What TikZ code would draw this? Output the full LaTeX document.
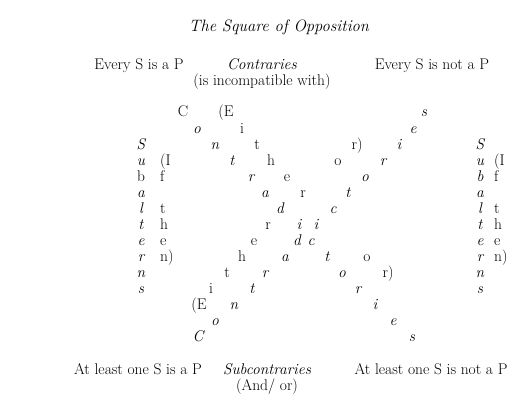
\documentclass[tikz,border=0pt]{standalone}
\usetikzlibrary{positioning}

\begin{document}
\begin{tikzpicture}[x=1pt, y=-1pt, node distance=3pt,
  every node/.style={font=\fontsize{15.5}{18}\selectfont, inner sep=0pt, anchor=base},
  rel/.style={font=\fontsize{15.5}{18}\selectfont\itshape},
  ltr/.style={font=\fontsize{15.5}{18}\selectfont\itshape},
  ifthen/.style={anchor=base west}]
\useasboundingbox (0,0) rectangle (520,403);
\node[font=\fontsize{16.5}{19}\selectfont\itshape] (title) at (279,32) {The Square of Opposition};
% top corners
\node (every) at (139,70) {Every S is a P};
\node[rel] (contr) at (262,70) {Contraries};
\node (everynot) at (432,70) {Every S is not a P};
\node[below=3pt of contr] (incomp) {(is incompatible with)};
% bottom corners
\node (least) at (138,375) {At least one S is a P};
\node[rel] (subc) at (267,375) {Subcontraries};
\node (leastnot) at (431,375) {At least one S is not a P};
\node[below=3pt of subc] (andor) {(And/ or)};
% contradictories, top left to bottom right
\node (cdown-0) at (183,117) {C};
\foreach \ch/\x [count=\j] in {o/197,n/215,t/232,r/251,a/265,d/280,i/299,c/311,t/327,o/342,r/358,i/375,e/393,s/412}
  \node[ltr] (cdown-\j) at (\x,{117+16.07*\j}) {\ch};
% contradictories, bottom left to top right
\node[ltr] (cup-0) at (198,342) {C};
\foreach \ch/\x [count=\j] in {o/215,n/234,t/252,r/265,a/285,d/297,i/316,c/333,t/348,o/365,r/383,i/399,e/413,s/424}
  \node[ltr] (cup-\j) at (\x,{117+16.07*(14-\j)}) {\ch};
% either ... or
\foreach \j/\ch/\x in {0/{(E}/226,1/i/242,2/t/257,3/h/271,4/e/287,5/r/303,9/o/367,10/{r)}/388}
  \node (edown-\j) at (\x,{117+16.07*\j}) {\ch};
\foreach \j/\ch/\x in {0/{(E}/199,1/i/211,2/t/227,3/h/242,4/e/254,5/r/268,9/o/338,10/{r)}/357}
  \node (eup-\j) at (\x,{117+16.07*(12-\j)}) {\ch};
% subalterns
\foreach \ch [count=\k from 2] in {S,u,{\upshape b},a,l,t,e,r,n,s}
  \node[ltr] (subl-\k) at (141,{117+16.07*\k}) {\ch};
\foreach \ch [count=\k from 2] in {S,u,b,a,l,t,e,r,n,s}
  \node[ltr] (subr-\k) at (480,{117+16.07*\k}) {\ch};
\foreach \k/\ch in {3/{(I},4/f,6/t,7/h,8/e,9/{n)}}{
  \node[ifthen] (ifl-\k) at (160,{117+16.07*\k}) {\ch};
  \node[ifthen] (ifr-\k) at (494,{117+16.07*\k}) {\ch};
}
\end{tikzpicture}
\end{document}
